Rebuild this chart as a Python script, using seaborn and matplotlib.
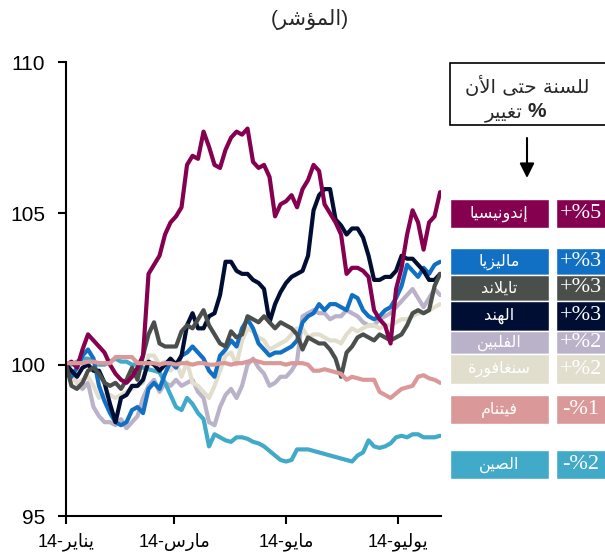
import pandas as pd
import matplotlib
matplotlib.use('Agg')
import matplotlib.pyplot as plt
import seaborn as sns
from matplotlib.patches import Rectangle


# بيانات المؤشر (كل 3 أيام من 1 يناير 2014)
dates = pd.date_range('2014-01-01', periods=69, freq='3D')

indonesia = [100.0, 100.1, 99.9, 100.5, 101.0, 100.8, 100.6, 100.4, 100.0, 99.7,
             99.5, 99.4, 99.6, 99.9, 100.3, 103.0, 103.3, 103.6, 104.3, 104.7,
             104.9, 105.2, 106.6, 106.9, 106.8, 107.7, 107.2, 106.6, 106.5, 107.1,
             107.5, 107.7, 107.6, 107.8, 106.7, 106.5, 106.6, 106.2, 104.9, 105.3,
             105.4, 105.6, 105.2, 105.8, 106.1, 106.6, 106.4, 105.3, 105.0, 104.7,
             104.3, 103.0, 103.2, 103.2, 103.1, 102.9, 101.8, 101.5, 101.3, 100.7,
             102.5, 103.2, 104.3, 105.1, 104.7, 103.8, 104.7, 104.9, 105.7]
malaysia = [100.0, 99.6, 99.9, 100.3, 100.5, 100.2, 99.3, 98.8, 98.4, 98.1,
            98.0, 98.1, 98.5, 98.6, 98.4, 99.2, 99.4, 99.2, 99.7, 100.1,
            99.9, 100.3, 100.4, 100.6, 100.4, 100.2, 99.8, 99.6, 100.3, 100.5,
            100.8, 100.6, 101.2, 101.5, 101.2, 100.7, 100.5, 100.3, 100.4, 100.4,
            100.5, 100.6, 100.8, 101.4, 101.6, 101.7, 102.0, 101.8, 102.0, 102.0,
            101.9, 101.8, 102.3, 102.2, 101.8, 101.6, 101.5, 101.6, 101.8, 101.9,
            102.2, 102.6, 103.3, 103.1, 102.9, 103.2, 103.0, 103.3, 103.4]
thailand = [100.0, 99.3, 99.2, 99.4, 99.8, 99.9, 99.7, 99.4, 99.3, 99.4,
            99.2, 99.5, 99.9, 99.5, 100.3, 101.0, 101.4, 100.7, 100.6, 100.6,
            100.6, 101.1, 101.3, 101.2, 101.5, 101.8, 101.3, 101.0, 100.7, 100.6,
            101.1, 100.9, 101.0, 101.6, 101.5, 101.4, 101.6, 101.4, 101.2, 101.4,
            101.3, 101.2, 101.0, 100.5, 100.9, 100.8, 100.7, 100.7, 100.5, 100.2,
            99.6, 100.4, 100.6, 100.9, 101.0, 100.9, 100.8, 101.0, 100.9, 100.8,
            100.9, 101.0, 101.3, 101.7, 101.8, 101.7, 101.8, 102.6, 103.0]
india = [100.0, 99.8, 99.6, 99.9, 100.0, 99.8, 99.8, 99.4, 98.7, 98.1,
         98.9, 99.0, 99.3, 99.3, 99.5, 100.1, 100.0, 99.8, 100.0, 100.2,
         100.0, 100.3, 101.3, 101.7, 101.2, 101.2, 101.6, 101.7, 102.3, 103.4,
         103.4, 103.1, 103.0, 103.0, 102.8, 102.7, 102.5, 101.4, 102.0, 102.4,
         102.7, 102.9, 103.0, 103.1, 103.6, 105.1, 105.6, 105.8, 105.8, 104.8,
         104.6, 104.3, 104.5, 104.5, 104.2, 103.6, 102.8, 102.8, 102.9, 102.9,
         103.1, 103.6, 103.5, 103.5, 103.3, 103.1, 102.8, 102.8, 103.0]
philippines = [100.0, 99.7, 99.4, 99.2, 99.4, 98.6, 98.3, 98.1, 98.1, 98.0,
               98.2, 97.9, 98.1, 98.3, 98.9, 99.3, 99.5, 99.1, 99.4, 99.3,
               99.5, 99.3, 99.4, 99.5, 99.1, 98.9, 98.1, 98.0, 98.6, 99.0,
               99.2, 98.9, 99.3, 100.0, 100.2, 99.9, 99.7, 99.3, 99.4, 99.6,
               99.6, 99.8, 100.1, 101.6, 101.7, 101.8, 101.7, 101.7, 101.5, 101.6,
               101.6, 101.8, 101.7, 101.6, 101.4, 101.3, 101.3, 101.5, 101.6, 101.7,
               101.9, 102.1, 102.3, 102.5, 102.2, 101.9, 102.2, 102.5, 102.3]
singapore = [100.0, 99.6, 99.4, 99.5, 99.6, 99.3, 98.9, 99.0, 99.0, 98.9,
             99.0, 99.1, 99.2, 99.3, 99.4, 100.3, 100.3, 100.0, 100.1, 99.8,
             100.1, 99.6, 100.1, 99.4, 99.3, 99.1, 98.9, 99.3, 99.8, 100.3,
             100.4, 100.0, 100.8, 101.2, 101.1, 100.9, 100.8, 100.5, 100.6, 100.7,
             100.8, 101.0, 101.2, 101.2, 100.9, 101.0, 101.0, 100.9, 100.8, 100.8,
             100.7, 101.0, 101.2, 101.1, 101.2, 101.3, 101.3, 101.2, 101.3, 101.3,
             101.4, 101.5, 101.5, 101.6, 101.7, 101.7, 101.8, 101.9, 102.0]
vietnam = [100.05, 100.05, 100.05, 100.05, 100.1, 100.1, 100.05, 100.05, 100.05, 100.25,
           100.25, 100.25, 100.25, 100.05, 100.05, 100.05, 100.05, 100.0, 100.05, 100.05,
           100.0, 100.05, 100.05, 100.0, 100.05, 100.05, 100.0, 100.0, 100.05, 100.05,
           100.0, 100.05, 100.05, 100.1, 100.15, 100.1, 100.05, 100.05, 100.05, 100.05,
           100.0, 100.05, 100.05, 100.05, 100.0, 99.8, 99.8, 99.85, 99.8, 99.75,
           99.7, 99.5, 99.6, 99.55, 99.5, 99.5, 99.5, 99.1, 99.0, 98.9,
           99.05, 99.2, 99.25, 99.3, 99.6, 99.65, 99.55, 99.5, 99.4]
china = [100.0, 100.0, 100.1, 100.2, 100.2, 100.1, 100.0, 100.0, 100.1, 100.2,
         100.1, 100.1, 100.0, 100.0, 99.9, 99.85, 99.8, 99.75, 99.4, 99.0,
         98.6, 98.5, 98.9, 98.7, 98.4, 98.2, 97.3, 97.7, 97.6, 97.5,
         97.45, 97.6, 97.6, 97.55, 97.45, 97.4, 97.3, 97.15, 97.0, 96.85,
         96.8, 96.85, 97.2, 97.2, 97.2, 97.15, 97.1, 97.05, 97.0, 96.95,
         96.9, 96.85, 96.8, 97.0, 97.1, 97.5, 97.3, 97.25, 97.3, 97.4,
         97.6, 97.65, 97.6, 97.7, 97.7, 97.6, 97.6, 97.6, 97.65]

countries = ['إندونيسيا', 'ماليزيا', 'تايلاند', 'الهند', 'الفلبين', 'سنغافورة', 'فيتنام', 'الصين']
ytd_change = ['+%5', '+%3', '+%3', '+%3', '+%2', '+%2', '-%1', '-%2']
colors = ['#860050', '#1170C4', '#4B4F4C', '#000E34', '#B9B2C8', '#E1DECE', '#DA9898', '#40AAC8']
series = [indonesia, malaysia, thailand, india, philippines, singapore, vietnam, china]

tick_dates = ['2014-01-01', '2014-03-01', '2014-05-01', '2014-07-01']
tick_months = ['يناير', 'مارس', 'مايو', 'يوليو']
yticks = [95, 100, 105, 110]


# matplotlib لا يربط الحروف العربية: تحويل يدوي إلى أشكال العرض ثم عكس الترتيب
DUAL = {0x0626: 0xFE89, 0x0628: 0xFE8F, 0x062A: 0xFE95, 0x062B: 0xFE99, 0x062C: 0xFE9D,
        0x062D: 0xFEA1, 0x062E: 0xFEA5, 0x0633: 0xFEB1, 0x0634: 0xFEB5, 0x0635: 0xFEB9,
        0x0636: 0xFEBD, 0x0637: 0xFEC1, 0x0638: 0xFEC5, 0x0639: 0xFEC9, 0x063A: 0xFECD,
        0x0641: 0xFED1, 0x0642: 0xFED5, 0x0643: 0xFED9, 0x0644: 0xFEDD, 0x0645: 0xFEE1,
        0x0646: 0xFEE5, 0x0647: 0xFEE9, 0x064A: 0xFEF1}
RIGHT = {0x0622: 0xFE81, 0x0623: 0xFE83, 0x0624: 0xFE85, 0x0625: 0xFE87, 0x0627: 0xFE8D,
         0x0629: 0xFE93, 0x062F: 0xFEA9, 0x0630: 0xFEAB, 0x0631: 0xFEAD, 0x0632: 0xFEAF,
         0x0648: 0xFEED, 0x0649: 0xFEEF}
LAMALEF = {0x0622: 0xFEF5, 0x0623: 0xFEF7, 0x0625: 0xFEF9, 0x0627: 0xFEFB}


def ar(s):
    out = []
    i = 0
    while i < len(s):
        o = ord(s[i])
        p = i > 0 and ord(s[i - 1]) in DUAL
        if o == 0x0644 and i + 1 < len(s) and ord(s[i + 1]) in LAMALEF:
            out.append(chr(LAMALEF[ord(s[i + 1])] + int(p)))
            i += 2
            continue
        if o in DUAL:
            nxt = i + 1 < len(s) and (ord(s[i + 1]) in DUAL or ord(s[i + 1]) in RIGHT)
            form = (3 if nxt else 1) if p else (2 if nxt else 0)
            out.append(chr(DUAL[o] + form))
        elif o in RIGHT:
            out.append(chr(RIGHT[o] + int(p)))
        else:
            out.append(s[i])
        i += 1
    return ''.join(out)[::-1]


sns.set_style('ticks')
plt.rcParams['font.family'] = ['Liberation Sans', 'DejaVu Sans']

W, H = 605, 558
fig = plt.figure(figsize=(W / 100, H / 100), dpi=100)
ax = fig.add_axes([66 / W, 1 - 516 / H, (441 - 66) / W, (516 - 62) / H])

df = pd.DataFrame({c: v for c, v in zip(countries, series)})
df['date'] = dates
long = df.melt(id_vars='date', var_name='country', value_name='value')

draw_order = ['الفلبين', 'سنغافورة', 'الصين', 'ماليزيا', 'الهند', 'تايلاند', 'إندونيسيا', 'فيتنام']
sns.lineplot(data=long, x='date', y='value', hue='country', hue_order=draw_order,
             palette=dict(zip(countries, colors)), linewidth=3, legend=False, ax=ax)

start = pd.Timestamp('2014-01-01')
ax.set_xlim(start, start + pd.Timedelta(days=204.5))
ax.set_ylim(95, 110)
ax.set_yticks(yticks)
ax.set_yticklabels([str(t) for t in yticks], fontsize=15)
ax.set_xticks(pd.to_datetime(tick_dates))
ax.set_xticklabels(['14-' + ar(m) for m in tick_months], fontsize=13)
ax.set_xlabel('')
ax.set_ylabel('')
sns.despine(ax=ax)
for s in ['left', 'bottom']:
    ax.spines[s].set_linewidth(1.5)
    ax.spines[s].set_color('black')
ax.tick_params(direction='out', length=6, width=1.5, color='black', labelcolor='black')
ax.tick_params(axis='y', pad=9)
ax.tick_params(axis='x', pad=6)

fig.text(310 / W, 1 - 20 / H, '(' + ar('المؤشر') + ')', ha='center', va='center', fontsize=15)


def box(x, y, w, h, color, **kw):
    fig.add_artist(Rectangle((x / W, 1 - (y + h) / H), w / W, h / H,
                             transform=fig.transFigure, facecolor=color, **kw))


# عنوان المفتاح والسهم
box(450, 63, 160, 62, 'white', edgecolor='black', linewidth=1.2)
fig.text(527 / W, 1 - 93 / H, ar('للسنة حتى الأن'), ha='center', va='baseline',
         fontsize=14, family='DejaVu Sans')
fig.text(523 / W, 1 - 117 / H, ar('تغيير'), ha='right', va='baseline',
         fontsize=14, family='DejaVu Sans')
fig.text(528 / W, 1 - 117 / H, '%', ha='left', va='baseline',
         fontsize=15, fontweight='bold')
fig.add_artist(plt.Annotation('', xy=(527, H - 178), xytext=(527, H - 138),
                              xycoords='figure pixels', textcoords='figure pixels',
                              arrowprops=dict(arrowstyle='-|>', color='black', lw=1.5,
                                              mutation_scale=22, shrinkA=0, shrinkB=0)))

# مربعات المفتاح: (أعلى، ارتفاع)
rows = [(199, 29), (248, 27), (275, 26), (301, 30), (331, 23), (354, 30), (395, 29), (450, 29)]
for name, chg, col, (y, h) in zip(countries, ytd_change, colors, rows):
    box(450, y, 99, h, col)
    box(556, y, 50, h, col)
    fig.text(499 / W, 1 - (y + h / 2) / H, ar(name), ha='center', va='center',
             fontsize=11.5, color='white', family='DejaVu Sans')
    fig.text(581 / W, 1 - (y + h / 2) / H, chg, ha='center', va='center',
             fontsize=16, color='white', family=['Liberation Serif', 'DejaVu Serif'])

fig.savefig('out.png', dpi=100)
